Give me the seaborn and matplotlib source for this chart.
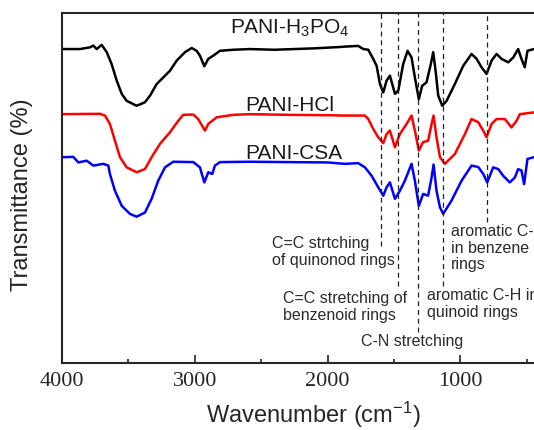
import matplotlib
matplotlib.use("Agg")
import matplotlib.pyplot as plt
from matplotlib.ticker import MultipleLocator
import seaborn as sns
import pandas as pd

# FTIR spectra (wavenumber cm-1, transmittance, arbitrary offset)
h3po4_wn = [3990, 3864, 3789, 3764, 3739, 3701, 3663, 3626, 3588, 3550, 3513, 3438, 3375,
            3337, 3287, 3237, 3187, 3136, 3074, 3023, 2986, 2961, 2928, 2898, 2861, 2810,
            2710, 2584, 2400, 2100, 1900, 1869, 1769, 1731, 1693, 1656, 1630, 1605, 1580,
            1555, 1530, 1492, 1467, 1430, 1397, 1367, 1342, 1312, 1287, 1254, 1222, 1204,
            1186, 1166, 1136, 1103, 1041, 978, 915, 877, 840, 802, 764, 727, 689, 639, 601,
            564, 539, 514, 494, 446]
h3po4_t = [89.7, 89.7, 90.2, 90.7, 89.7, 90.9, 88.8, 85.4, 80.7, 76.9, 74.9, 73.5, 74.5,
           76.4, 79.7, 81.6, 83.5, 86.4, 88.8, 90.0, 89.2, 87.8, 84.8, 86.9, 87.8, 89.2,
           89.5, 89.7, 89.5, 89.9, 90.3, 90.4, 90.6, 89.7, 89.5, 86.9, 84.9, 79.7, 77.3,
           80.7, 82.1, 76.9, 77.8, 85.4, 89.2, 87.3, 81.6, 75.4, 79.2, 80.2, 85.4, 88.8,
           83.5, 76.4, 73.5, 74.9, 79.7, 84.9, 88.3, 86.9, 84.5, 82.6, 86.4, 88.3, 86.9, 85.9,
           87.3, 89.7, 86.9, 84.5, 89.2, 89.7]

hcl_wn = [3990, 3714, 3676, 3639, 3601, 3563, 3513, 3438, 3375, 3325, 3262, 3187, 3124,
          3087, 3011, 2974, 2923, 2898, 2835, 2710, 2584, 2300, 2000, 1869, 1718, 1693,
          1656, 1618, 1580, 1555, 1530, 1492, 1455, 1404, 1367, 1342, 1312, 1280, 1242,
          1216, 1201, 1179, 1153, 1116, 1041, 965, 915, 865, 827, 802, 764, 727, 664, 614,
          576, 551, 446]
hcl_t = [71.1, 71.2, 70.7, 68.3, 63.5, 58.8, 55.9, 54.5, 55.4, 58.8, 62.6, 65.9, 69.2,
         70.9, 71.0, 69.7, 66.4, 68.3, 70.2, 70.9, 71.1, 70.9, 70.8, 70.7, 70.7, 69.7,
         66.9, 64.5, 62.8, 65.4, 66.4, 61.6, 65.4, 68.3, 70.7, 66.4, 60.7, 63.1, 63.5,
         68.3, 70.7, 64.5, 58.8, 56.9, 59.7, 65.4, 69.7, 68.8, 66.4, 64.5, 68.3, 69.7, 69.7,
         67.3, 69.2, 71.1, 71.6]

csa_wn = [3990, 3915, 3877, 3814, 3764, 3689, 3651, 3639, 3601, 3550, 3488, 3438, 3375,
          3325, 3275, 3224, 3162, 3011, 2961, 2928, 2898, 2868, 2848, 2810, 2584, 2300,
          2000, 1869, 1769, 1718, 1668, 1618, 1580, 1555, 1530, 1492, 1455, 1417, 1367,
          1342, 1312, 1280, 1242, 1216, 1201, 1179, 1153, 1129, 1066, 990, 915, 865, 827,
          797, 752, 714, 677, 627, 589, 564, 539, 519, 494, 446]
csa_t = [58.8, 58.9, 57.3, 57.8, 56.4, 56.9, 56.4, 54.0, 49.2, 44.9, 42.6, 41.8, 43.0,
         46.9, 52.1, 55.9, 57.5, 57.4, 55.9, 51.6, 54.5, 54.0, 56.4, 57.4, 57.5, 57.4,
         57.3, 56.9, 57.1, 55.9, 53.5, 50.2, 47.8, 50.2, 51.6, 46.9, 49.2, 52.1, 56.9,
         52.1, 44.9, 48.3, 47.8, 53.0, 56.7, 49.2, 44.5, 42.6, 46.4, 52.1, 56.4, 56.0, 54.0,
         51.6, 55.9, 55.4, 53.5, 51.6, 53.0, 55.4, 55.0, 51.1, 58.3, 58.8]

series_names = ["PANI-H$_3$PO$_4$", "PANI-HCl", "PANI-CSA"]
series_colors = ["black", "#ff0000", "#0000ff"]

# dashed marker lines: position and lower end
mark_wn = [1600, 1470, 1315, 1128, 800]
mark_end = [33.5, 22.0, 8.8, 22.0, 40.2]

notes = ["C=C strtching\nof quinonod rings", "C=C stretching of\nbenzenoid rings",
         "C-N stretching", "aromatic C-H\nin benzene\nrings", "aromatic C-H in\nquinoid rings"]
note_x = [2415, 2338, 1749, 1069, 1248]
note_y = [32.0, 16.3, 6.4, 33.1, 17.1]

label_x = [2287, 2283, 2255]
label_y = [95.8, 74.0, 60.2]

sns.set_style("ticks")
plt.rcParams["font.family"] = ["Liberation Sans", "DejaVu Sans"]
plt.rcParams["mathtext.fontset"] = "custom"
plt.rcParams["mathtext.rm"] = "Liberation Sans"
plt.rcParams["mathtext.it"] = "Liberation Sans:italic"
plt.rcParams["mathtext.default"] = "regular"

fig = plt.figure(figsize=(5.34, 4.31), dpi=100)
ax = fig.add_axes([0.1161, 0.1555, 0.895, 0.812])

frames = [(h3po4_wn, h3po4_t), (hcl_wn, hcl_t), (csa_wn, csa_t)]
for (wn, t), name, col in zip(frames, series_names, series_colors):
    df = pd.DataFrame({"wn": wn, "t": t})
    sns.lineplot(data=df, x="wn", y="t", color=col, linewidth=1.8, ax=ax,
                 estimator=None, sort=False)

for x, y0 in zip(mark_wn, mark_end):
    ax.plot([x, x], [y0, 100], color="#222222", linewidth=0.9, dashes=(4, 3))

for txt, x, y in zip(notes, note_x, note_y):
    ax.text(x, y, txt, ha="left", va="center", fontsize=11.5, color="#2a2a2a",
            linespacing=1.15, clip_on=False)

for name, x, y in zip(series_names, label_x, label_y):
    ax.text(x, y, name, ha="center", va="center", fontsize=15, color="#1a1a1a")

ax.set_xlim(4000, 400)
ax.set_ylim(0, 100)
ax.set_yticks([])
ax.xaxis.set_major_locator(MultipleLocator(1000))
ax.xaxis.set_minor_locator(MultipleLocator(500))
ax.tick_params(axis="x", which="major", direction="in", length=6, width=1.2, pad=6,
               labelsize=16, top=False)
ax.tick_params(axis="x", which="minor", direction="in", length=3, width=1.2, top=False)
for lab in ax.get_xticklabels():
    lab.set_family("Liberation Serif")
for sp in ax.spines.values():
    sp.set_linewidth(1.5)
    sp.set_visible(True)

ax.set_xlabel("Wavenumber (cm$^{-1}$)", fontsize=17)
ax.set_ylabel("Transmittance (%)", fontsize=17)
ax.xaxis.set_label_coords(0.525, -0.102)
ax.yaxis.set_label_coords(-0.061, 0.483)

fig.savefig("out.png", dpi=100)
